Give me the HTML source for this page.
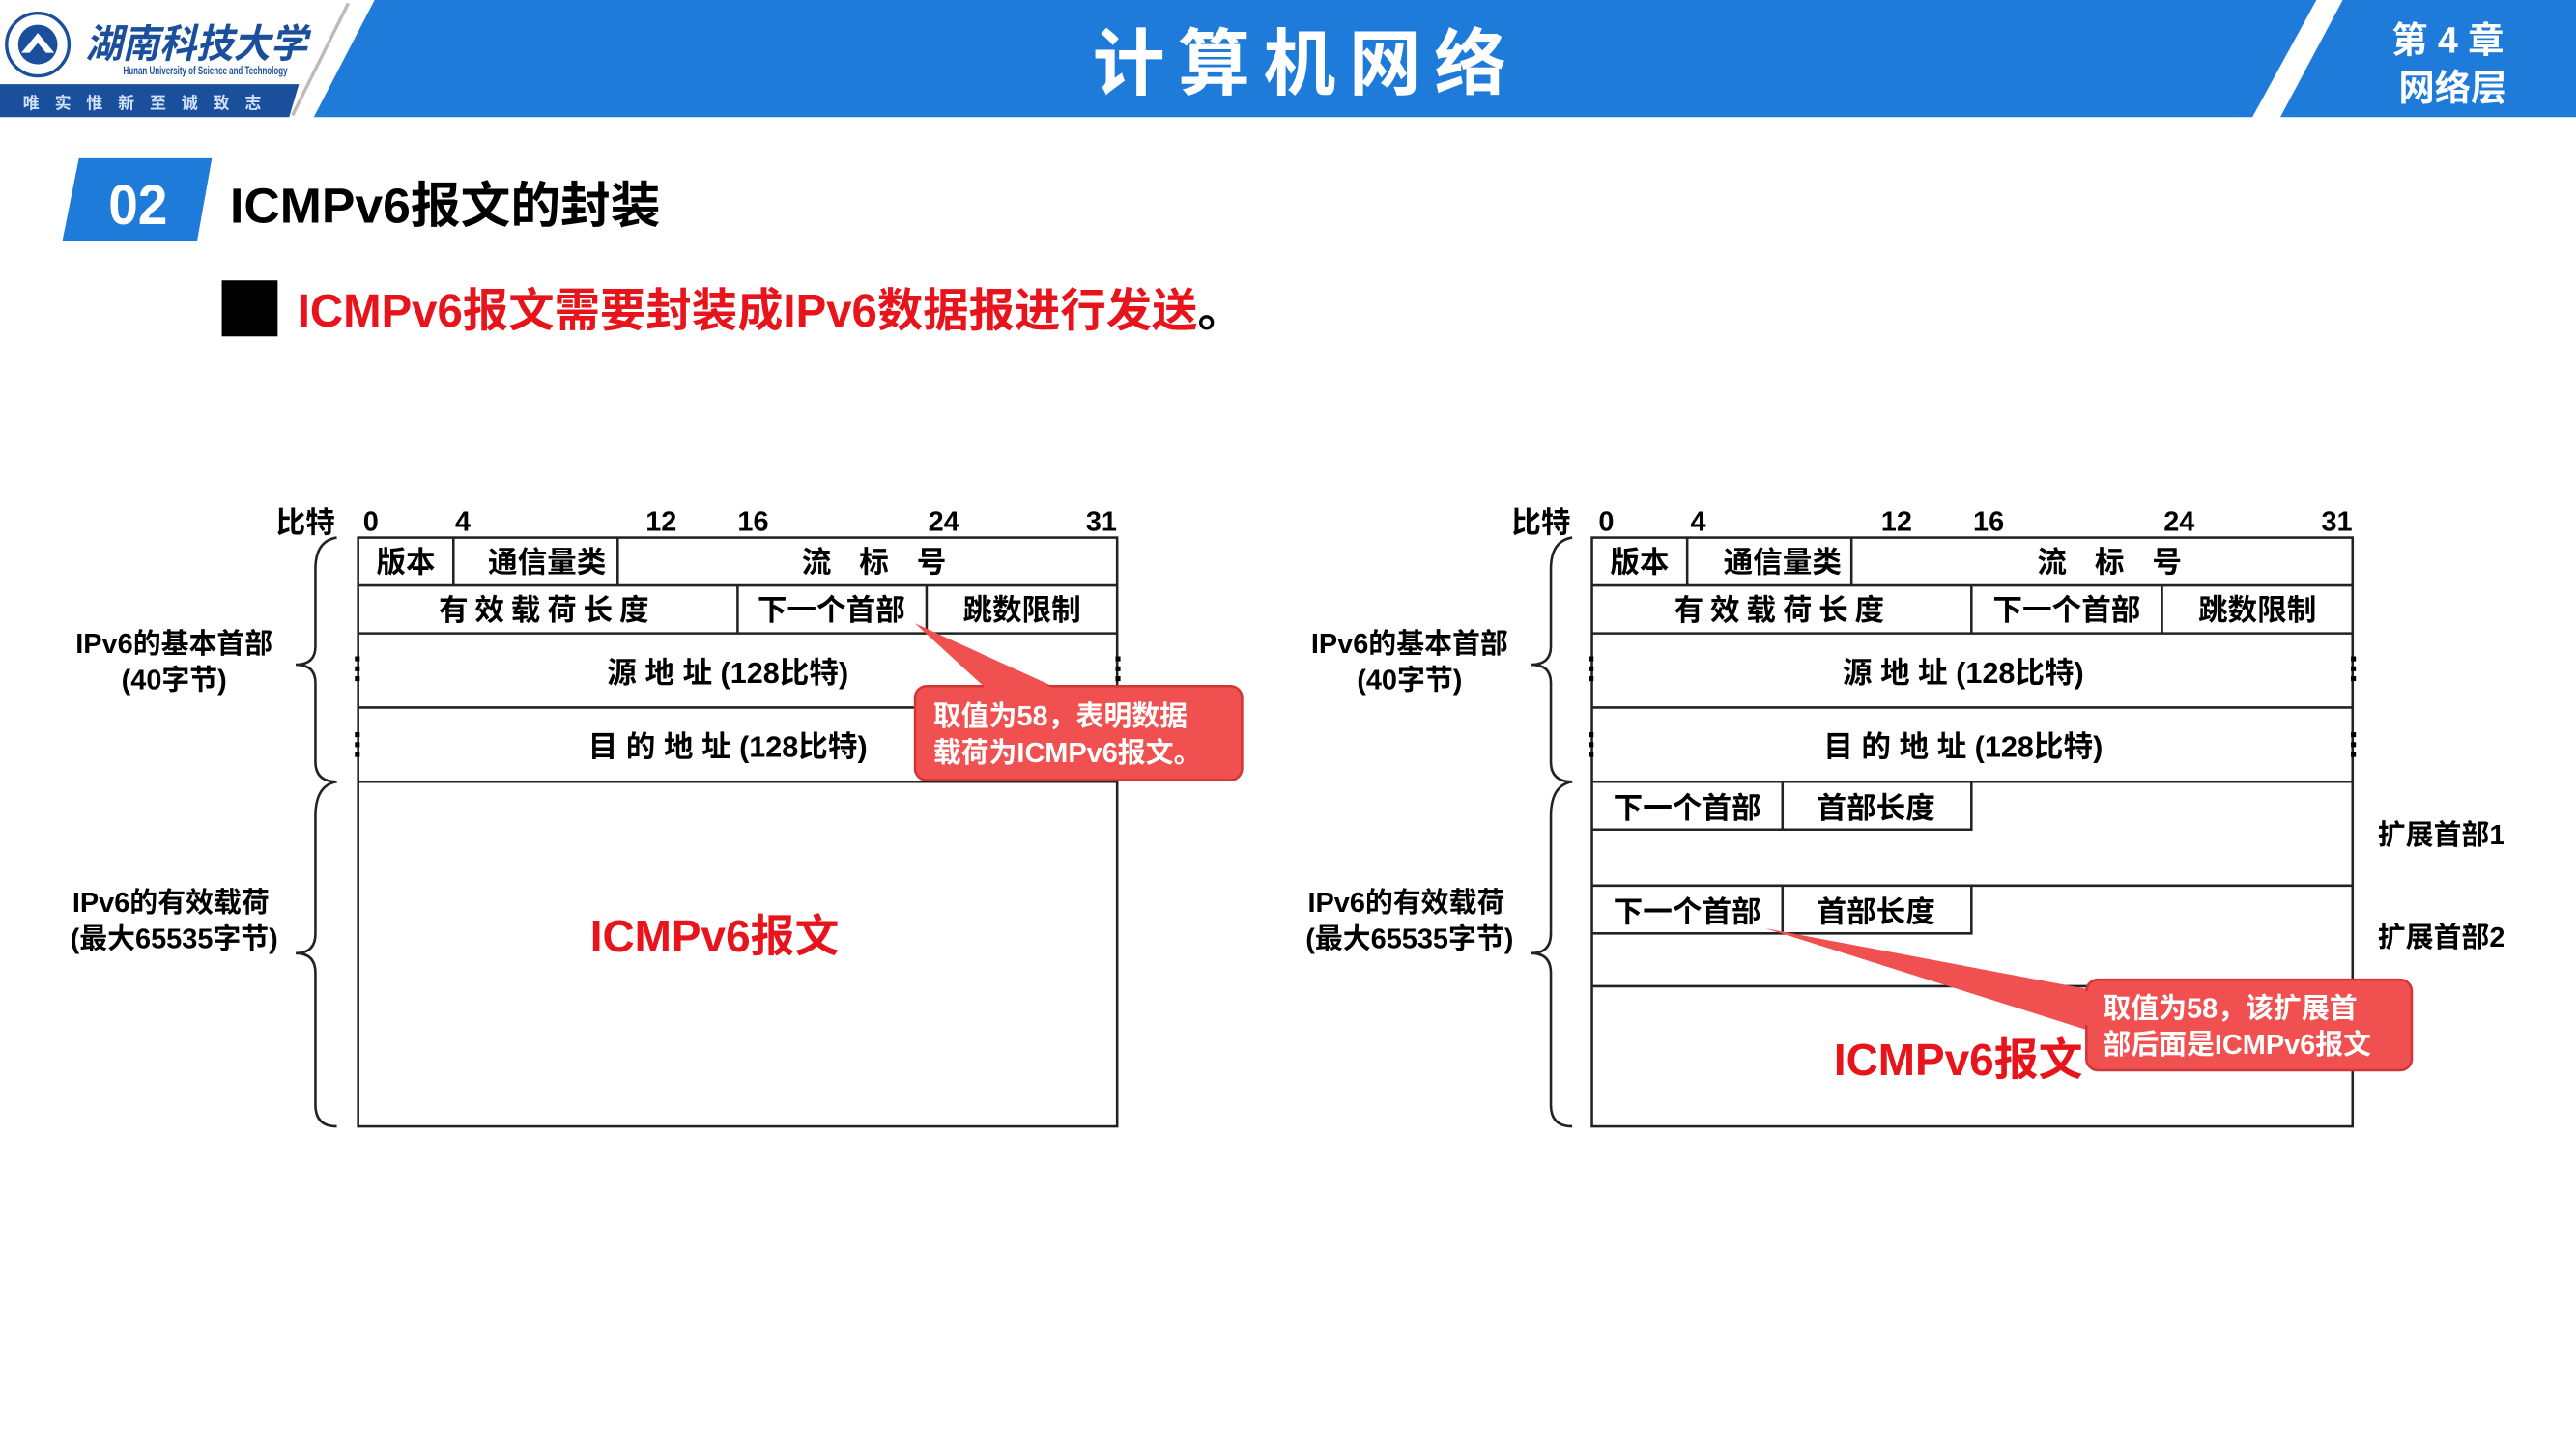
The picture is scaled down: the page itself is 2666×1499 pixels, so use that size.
<!DOCTYPE html>
<html><head><meta charset="utf-8">
<style>
html,body{margin:0;padding:0;background:#fff;}
svg{display:block;}
text{font-family:"Liberation Sans Narrow","Liberation Sans","Noto Sans CJK SC",sans-serif;font-weight:bold;}
</style></head>
<body>
<svg width="2666" height="1499" viewBox="0 0 1568 878" preserveAspectRatio="none" xmlns="http://www.w3.org/2000/svg">
<rect width="1568" height="878" fill="#fff"/>
<!-- header -->
<polygon points="228,0 1410,0 1371,71 191,71" fill="#1f7bd9"/>
<polygon points="1426,0 1568,0 1568,71 1388,71" fill="#1f7bd9"/>
<line x1="212" y1="2" x2="178" y2="70" stroke="#bbb" stroke-width="2"/>
<polygon points="0,51 182,51 176,71 0,71" fill="#1a4f9c"/>
<circle cx="23" cy="27" r="19" fill="#fff" stroke="#1a4f9c" stroke-width="2"/>
<circle cx="23" cy="27" r="12" fill="#1a4f9c"/>
<polygon points="13,32 23,20 33,32 28,32 23,26 18,32" fill="#fff"/>
<text x="52" y="35" font-size="24" fill="#1a4f9c" font-family="'Noto Serif CJK SC',serif" textLength="135" lengthAdjust="spacingAndGlyphs" font-style="italic">湖南科技大学</text>
<text x="75" y="45" font-size="7" fill="#1a4f9c" font-weight="normal" textLength="100" lengthAdjust="spacingAndGlyphs">Hunan University of Science and Technology</text>
<text x="14" y="66" font-size="10" fill="#cfe0ff" textLength="145" lengthAdjust="spacing">唯 实 惟 新   至 诚 致 志</text>
<text x="795" y="54" font-size="44" fill="#fff" text-anchor="middle" font-family="'Noto Sans CJK SC',sans-serif" font-weight="900" letter-spacing="8">计算机网络</text>
<text x="1490" y="32" font-size="22" fill="#fff" text-anchor="middle" font-family="'Noto Sans CJK SC',sans-serif">第 4 章</text>
<text x="1493" y="61" font-size="22" fill="#fff" text-anchor="middle" font-family="'Noto Sans CJK SC',sans-serif">网络层</text>
<!-- section -->
<polygon points="48,96 129,96 120,146 38,146" fill="#1f7bd9"/>
<text x="84" y="136" font-size="34" fill="#fff" text-anchor="middle" textLength="36" lengthAdjust="spacingAndGlyphs">02</text>
<text x="140" y="135" font-size="30" fill="#000" textLength="262" lengthAdjust="spacingAndGlyphs">ICMPv6报文的封装</text>
<rect x="135" y="170" width="34" height="34" fill="#000"/>
<text x="181" y="198" font-size="28" fill="#e8141c" textLength="548" lengthAdjust="spacingAndGlyphs">ICMPv6报文需要封装成IPv6数据报进行发送</text>
<text x="729" y="198" font-size="28" fill="#000">。</text>

<!-- LEFT DIAGRAM -->
<g font-size="17" fill="#000">
<text x="168" y="323" font-size="18">比特</text>
<text x="221" y="322">0</text><text x="277" y="322">4</text><text x="393" y="322">12</text><text x="449" y="322">16</text><text x="565" y="322">24</text><text x="661" y="322">31</text>
</g>
<g stroke="#222" stroke-width="1.5" fill="none">
<rect x="218" y="326" width="462" height="357"/>
<line x1="218" y1="355" x2="680" y2="355"/><line x1="218" y1="384" x2="680" y2="384"/>
<line x1="218" y1="429" x2="680" y2="429"/><line x1="218" y1="474" x2="680" y2="474"/>
<line x1="276" y1="326" x2="276" y2="355"/><line x1="376" y1="326" x2="376" y2="355"/>
<line x1="449" y1="355" x2="449" y2="384"/><line x1="564" y1="355" x2="564" y2="384"/>
<path d="M205,326 Q192,328 192,345 L192,392 Q192,403 180,403 Q192,403 192,414 L192,462 Q192,474 205,474"/>
<path d="M205,474 Q192,476 192,495 L192,566 Q192,578 180,578 Q192,578 192,590 L192,670 Q192,683 205,683"/>
</g>
<g fill="#000">
<rect x="216" y="398" width="3" height="3"/><rect x="216" y="404" width="3" height="3"/><rect x="216" y="410" width="3" height="3"/>
<rect x="679" y="398" width="3" height="3"/><rect x="679" y="404" width="3" height="3"/><rect x="679" y="410" width="3" height="3"/>
<rect x="216" y="444" width="3" height="3"/><rect x="216" y="450" width="3" height="3"/><rect x="216" y="456" width="3" height="3"/>
</g>
<g font-size="18" fill="#000" text-anchor="middle">
<text x="247" y="347">版本</text><text x="333" y="347">通信量类</text><text x="535" y="347" letter-spacing="6">流 标 号</text>
<text x="333" y="376" letter-spacing="4">有效载荷长度</text><text x="506" y="376">下一个首部</text><text x="622" y="376">跳数限制</text>
<text x="443" y="414">源  地  址 (128比特)</text>
<text x="443" y="459">目  的  地  址 (128比特)</text>
<text x="106" y="396" font-size="17">IPv6的基本首部</text><text x="106" y="418" font-size="17">(40字节)</text>
<text x="104" y="553" font-size="17">IPv6的有效载荷</text><text x="106" y="575" font-size="17">(最大65535字节)</text>
<text x="435" y="577" font-size="27" fill="#e8141c">ICMPv6报文</text>
</g>
<polygon points="557,378 605,418 645,418" fill="#f05050"/>
<rect x="557" y="416" width="199" height="57" rx="7" fill="#f05050" stroke="#d23535" stroke-width="1.5"/>
<polygon points="557,378 603,420 647,420" fill="#f05050"/>
<text x="568" y="440" font-size="17" fill="#fff">取值为58，表明数据</text>
<text x="568" y="462" font-size="17" fill="#fff">载荷为ICMPv6报文。</text>

<!-- RIGHT DIAGRAM -->
<g font-size="17" fill="#000">
<text x="920" y="323" font-size="18">比特</text>
<text x="973" y="322">0</text><text x="1029" y="322">4</text><text x="1145" y="322">12</text><text x="1201" y="322">16</text><text x="1317" y="322">24</text><text x="1413" y="322">31</text>
</g>
<g stroke="#222" stroke-width="1.5" fill="none">
<rect x="969" y="326" width="463" height="357"/>
<line x1="969" y1="355" x2="1432" y2="355"/><line x1="969" y1="384" x2="1432" y2="384"/>
<line x1="969" y1="429" x2="1432" y2="429"/><line x1="969" y1="474" x2="1432" y2="474"/>
<line x1="1027" y1="326" x2="1027" y2="355"/><line x1="1127" y1="326" x2="1127" y2="355"/>
<line x1="1200" y1="355" x2="1200" y2="384"/><line x1="1316" y1="355" x2="1316" y2="384"/>
<polyline points="969,503 1200,503 1200,474"/><line x1="1085" y1="474" x2="1085" y2="503"/>
<line x1="969" y1="537" x2="1432" y2="537"/>
<polyline points="969,566 1200,566 1200,537"/><line x1="1085" y1="537" x2="1085" y2="566"/>
<line x1="969" y1="598" x2="1432" y2="598"/>
<path d="M957,326 Q944,328 944,345 L944,392 Q944,403 932,403 Q944,403 944,414 L944,462 Q944,474 957,474"/>
<path d="M957,474 Q944,476 944,495 L944,566 Q944,578 932,578 Q944,578 944,590 L944,670 Q944,683 957,683"/>
</g>
<g fill="#000">
<rect x="967" y="398" width="3" height="3"/><rect x="967" y="404" width="3" height="3"/><rect x="967" y="410" width="3" height="3"/>
<rect x="1431" y="398" width="3" height="3"/><rect x="1431" y="404" width="3" height="3"/><rect x="1431" y="410" width="3" height="3"/>
<rect x="967" y="444" width="3" height="3"/><rect x="967" y="450" width="3" height="3"/><rect x="967" y="456" width="3" height="3"/>
<rect x="1431" y="444" width="3" height="3"/><rect x="1431" y="450" width="3" height="3"/><rect x="1431" y="456" width="3" height="3"/>
</g>
<g font-size="18" fill="#000" text-anchor="middle">
<text x="998" y="347">版本</text><text x="1085" y="347">通信量类</text><text x="1287" y="347" letter-spacing="6">流 标 号</text>
<text x="1085" y="376" letter-spacing="4">有效载荷长度</text><text x="1258" y="376">下一个首部</text><text x="1374" y="376">跳数限制</text>
<text x="1195" y="414">源  地  址 (128比特)</text>
<text x="1195" y="459">目  的  地  址 (128比特)</text>
<text x="1027" y="496">下一个首部</text><text x="1142" y="496">首部长度</text>
<text x="1027" y="559">下一个首部</text><text x="1142" y="559">首部长度</text>
<text x="1486" y="512" font-size="17">扩展首部1</text><text x="1486" y="574" font-size="17">扩展首部2</text>
<text x="858" y="396" font-size="17">IPv6的基本首部</text><text x="858" y="418" font-size="17">(40字节)</text>
<text x="856" y="553" font-size="17">IPv6的有效载荷</text><text x="858" y="575" font-size="17">(最大65535字节)</text>
<text x="1192" y="652" font-size="27" fill="#e8141c">ICMPv6报文</text>
</g>
<polygon points="1075,563 1272,600 1272,625" fill="#f05050"/>
<rect x="1270" y="594" width="198" height="55" rx="7" fill="#f05050" stroke="#d23535" stroke-width="1.5"/>
<polygon points="1075,563 1275,602 1275,623" fill="#f05050"/>
<text x="1280" y="617" font-size="17" fill="#fff">取值为58，该扩展首</text>
<text x="1280" y="639" font-size="17" fill="#fff">部后面是ICMPv6报文</text>
</svg>
</body></html>
